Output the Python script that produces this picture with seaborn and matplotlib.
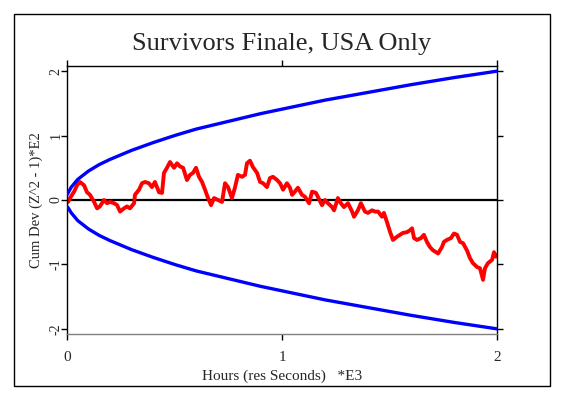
import matplotlib
matplotlib.use("Agg")
import matplotlib.pyplot as plt
import numpy as np
import pandas as pd
import seaborn as sns
from matplotlib.patches import Rectangle

# cumulative deviation trace (x in E3 seconds, y in E2)
dev_x = [0.0, 0.005, 0.014, 0.033, 0.047, 0.060, 0.079, 0.093, 0.107, 0.126,
         0.140, 0.153, 0.172, 0.186, 0.200, 0.219, 0.233, 0.247, 0.265, 0.279,
         0.293, 0.312, 0.316, 0.335, 0.349, 0.363, 0.381, 0.395, 0.409, 0.428,
         0.442, 0.451, 0.465, 0.479, 0.498, 0.512, 0.526, 0.540, 0.558, 0.572,
         0.586, 0.600, 0.614, 0.628, 0.642, 0.656, 0.670, 0.684, 0.702, 0.721,
         0.735, 0.749, 0.767, 0.781, 0.795, 0.814, 0.828, 0.837, 0.851, 0.865,
         0.884, 0.898, 0.912, 0.930, 0.944, 0.958, 0.977, 0.991, 1.005, 1.023,
         1.037, 1.047, 1.060, 1.074, 1.093, 1.107, 1.126, 1.140, 1.158, 1.167,
         1.186, 1.200, 1.214, 1.233, 1.242, 1.260, 1.274, 1.288, 1.307, 1.326,
         1.335, 1.353, 1.367, 1.386, 1.400, 1.419, 1.433, 1.447, 1.465, 1.474,
         1.488, 1.502, 1.516, 1.535, 1.549, 1.563, 1.581, 1.595, 1.605, 1.614,
         1.628, 1.647, 1.660, 1.674, 1.688, 1.702, 1.726, 1.744, 1.753, 1.767,
         1.786, 1.800, 1.814, 1.828, 1.842, 1.860, 1.874, 1.888, 1.907, 1.921,
         1.935, 1.944, 1.958, 1.977, 1.986, 1.995, 2.0]
dev_y = [-0.03, -0.03, 0.03, 0.13, 0.23, 0.28, 0.23, 0.12, 0.08, -0.03,
         -0.13, -0.10, 0.00, -0.05, -0.03, -0.05, -0.08, -0.18, -0.13, -0.10,
         -0.13, -0.05, 0.08, 0.16, 0.26, 0.28, 0.26, 0.20, 0.28, 0.12,
         0.11, 0.42, 0.50, 0.59, 0.50, 0.57, 0.52, 0.50, 0.31, 0.39,
         0.42, 0.50, 0.36, 0.28, 0.16, 0.03, -0.08, 0.03, 0.00, -0.03,
         0.26, 0.20, 0.03, 0.19, 0.39, 0.36, 0.39, 0.57, 0.61, 0.51,
         0.42, 0.28, 0.26, 0.20, 0.34, 0.36, 0.31, 0.26, 0.16, 0.26,
         0.19, 0.08, 0.13, 0.19, 0.08, 0.05, -0.05, 0.13, 0.11, 0.05,
         -0.08, 0.00, -0.05, -0.11, -0.16, 0.03, -0.05, -0.11, -0.05, -0.18,
         -0.26, -0.16, -0.05, -0.18, -0.20, -0.16, -0.18, -0.18, -0.26, -0.20,
         -0.34, -0.49, -0.62, -0.57, -0.54, -0.51, -0.50, -0.47, -0.44, -0.59,
         -0.62, -0.59, -0.54, -0.65, -0.73, -0.78, -0.83, -0.73, -0.65, -0.62,
         -0.59, -0.52, -0.54, -0.65, -0.67, -0.78, -0.90, -0.98, -1.04, -1.06,
         -1.24, -1.06, -0.98, -0.93, -0.81, -0.88, -0.86]

# probability envelope
env_x = [0.0, 0.005, 0.02, 0.05, 0.1, 0.15, 0.2, 0.3, 0.4, 0.5, 0.6, 0.7,
         0.8, 0.9, 1.0, 1.2, 1.4, 1.6, 1.8, 2.0]
env_hi = [0.08, 0.11, 0.2, 0.32, 0.45, 0.55, 0.63, 0.77, 0.89, 1.0, 1.1, 1.18,
          1.26, 1.34, 1.41, 1.55, 1.67, 1.79, 1.9, 2.0]
env_lo = [-0.1, -0.12, -0.2, -0.32, -0.45, -0.55, -0.63, -0.77, -0.89, -1.0,
          -1.1, -1.18, -1.26, -1.34, -1.41, -1.55, -1.67, -1.79, -1.9, -2.0]

x_ticks = [0, 1, 2]
y_ticks = [-2, -1, 0, 1, 2]

title = "Survivors Finale, USA Only"
x_label = "Hours (res Seconds)   *E3"
y_label = "Cum Dev (Z^2 - 1)*E2"

sns.set_style("ticks")
plt.rcParams["font.family"] = ["Liberation Serif", "DejaVu Serif"]
plt.rcParams["axes.unicode_minus"] = False

fig = plt.figure(figsize=(5.63, 3.97), dpi=100)
ax = fig.add_axes([67 / 563, 1 - 334 / 397, 430 / 563, 268 / 397])

df_env = pd.DataFrame({"x": env_x, "hi": env_hi, "lo": env_lo})
df_dev = pd.DataFrame({"x": dev_x, "y": dev_y})

ax.axhline(0, color="black", lw=1.6, zorder=1)
sns.lineplot(data=df_env, x="x", y="hi", ax=ax, color="#0000ff", lw=2.4,
             estimator=None, sort=False, zorder=3)
sns.lineplot(data=df_env, x="x", y="lo", ax=ax, color="#0000ff", lw=2.4,
             estimator=None, sort=False, zorder=3)
sns.lineplot(data=df_dev, x="x", y="y", ax=ax, color="#ff0000", lw=2.8,
             estimator=None, sort=False, zorder=2)

ax.set_xlim(0, 2)
ax.set_ylim(-2.08, 2.08)
ax.set_xticks(x_ticks)
ax.set_xticklabels([str(t) for t in x_ticks], fontsize=11)
ax.set_yticks(y_ticks)
ax.set_yticklabels([str(t) for t in y_ticks], fontsize=10, rotation=90, va="center")
ax.tick_params(axis="both", which="both", direction="out", length=4, width=1,
               color="black", top=True, right=True)
ax.tick_params(axis="x", pad=8)
ax.tick_params(axis="y", pad=-1)

for side in ["left", "top", "right"]:
    ax.spines[side].set_color("black")
    ax.spines[side].set_linewidth(1)
ax.spines["bottom"].set_color("#808080")
ax.spines["bottom"].set_linewidth(1)

ax.set_xlabel(x_label, fontsize=11, labelpad=4)
ax.set_ylabel(y_label, fontsize=10.5, labelpad=5)
fig.text(282 / 563, 1 - 44 / 397, title, fontsize=19, ha="center", va="center")

fig.patches.append(Rectangle((14 / 563, 1 - 386 / 397), 536 / 563, 372 / 397,
                             transform=fig.transFigure, fill=False,
                             edgecolor="black", lw=1))

fig.savefig("out.png", dpi=100)
